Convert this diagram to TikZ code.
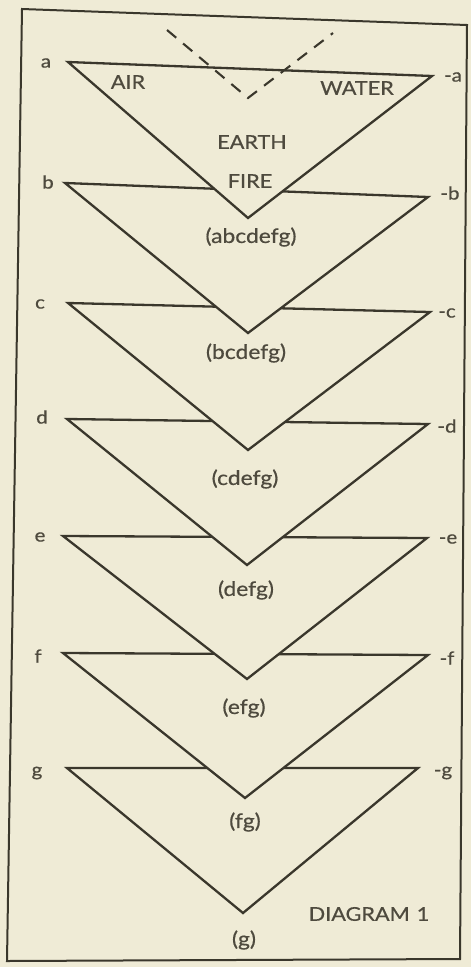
\documentclass[tikz,border=0pt]{standalone}
\usepackage{fontspec}
\setmainfont{Lato}[FakeStretch=1.14,FakeBold=0.6]
\definecolor{paper}{RGB}{239,235,214}
\definecolor{ink}{RGB}{58,55,44}
\definecolor{txt}{RGB}{78,74,62}
\begin{document}
\begin{tikzpicture}[x=1pt,y=-1pt,line join=miter,
  tri/.style={draw=ink,line width=2.3pt,fill=paper},
  frame/.style={draw=ink,line width=2pt},
  vdash/.style={draw=ink,line width=2.1pt,dash pattern=on 12pt off 9pt},
  elem/.style={text=txt,inner sep=0pt,font=\fontsize{19}{22}\selectfont},
  set/.style={text=txt,inner sep=0pt,font=\fontsize{20}{23}\selectfont},
  vlbl/.style={text=txt,inner sep=0pt,font=\fontsize{18}{21}\selectfont}]
\fill[paper] (0,0) rectangle (471,967);
\useasboundingbox (0,0) rectangle (471,967);
% frame
\coordinate (fTL) at (22,9);
\coordinate (fTR) at (467,25);
\coordinate (fBR) at (460,959);
\coordinate (fBL) at (7,961);
\draw[frame] (fTL) -- (fTR) -- (fBR) -- (fBL) -- cycle;
% triangle vertices
\coordinate (aL) at (68,62);  \coordinate (aR) at (432,76);  \coordinate (aA) at (248,218);
\coordinate (bL) at (65,183); \coordinate (bR) at (428,197); \coordinate (bA) at (248,333);
\coordinate (cL) at (68,303); \coordinate (cR) at (430,312); \coordinate (cA) at (248,450);
\coordinate (dL) at (67,419); \coordinate (dR) at (428,424); \coordinate (dA) at (247,565);
\coordinate (eL) at (63,536); \coordinate (eR) at (427,538); \coordinate (eA) at (247,679);
\coordinate (fL) at (63,653); \coordinate (fR) at (428,655); \coordinate (fA) at (245,798);
\coordinate (gL) at (67,768); \coordinate (gR) at (418,768); \coordinate (gA) at (243,913);
% triangles, lowest first so upper ones hide the lower top edges
\draw[tri] (gL) -- (gR) -- (gA) -- cycle;
\draw[tri] (fL) -- (fR) -- (fA) -- cycle;
\draw[tri] (eL) -- (eR) -- (eA) -- cycle;
\draw[tri] (dL) -- (dR) -- (dA) -- cycle;
\draw[tri] (cL) -- (cR) -- (cA) -- cycle;
\draw[tri] (bL) -- (bR) -- (bA) -- cycle;
\draw[tri] (aL) -- (aR) -- (aA) -- cycle;
% dashed V
\coordinate (vL) at (167,30);
\coordinate (vA) at (248,98);
\coordinate (vR) at (333,33);
\draw[vdash] (vL) -- (vA) -- (vR);
% element names
\node[elem] (air) at (128,82) {AIR};
\node[elem] (water) at (357,88) {WATER};
\node[elem] (earth) at (252,142) {EARTH};
\node[elem] (fire) at (250,181) {FIRE};
% sets
\node[set] (s1) at (251,237) {(abcdefg)};
\node[set] (s2) at (246,353) {(bcdefg)};
\node[set] (s3) at (245,479) {(cdefg)};
\node[set] (s4) at (246,590) {(defg)};
\node[set] (s5) at (244,708) {(efg)};
\node[set] (s6) at (245,822) {(fg)};
\node[set] (s7) at (244,940) {(g)};
\node[elem] (title) at (369,914) {DIAGRAM\hspace{7pt}1};
% vertex labels
\node[vlbl] (la) at (46,63) {a};   \node[vlbl] (lma) at (453,77) {-a};
\node[vlbl] (lb) at (48,182) {b};  \node[vlbl] (lmb) at (450,193) {-b};
\node[vlbl] (lc) at (40,304) {c};  \node[vlbl] (lmc) at (447,313) {-c};
\node[vlbl] (ld) at (42,417) {d};  \node[vlbl] (lmd) at (447,426) {-d};
\node[vlbl] (le) at (40,537) {e};  \node[vlbl] (lme) at (448,539) {-e};
\node[vlbl] (lf) at (38,656) {f};  \node[vlbl] (lmf) at (447,658) {-f};
\node[vlbl] (lg) at (37,773) {g};  \node[vlbl] (lmg) at (443,773) {-g};
\end{tikzpicture}
\end{document}
